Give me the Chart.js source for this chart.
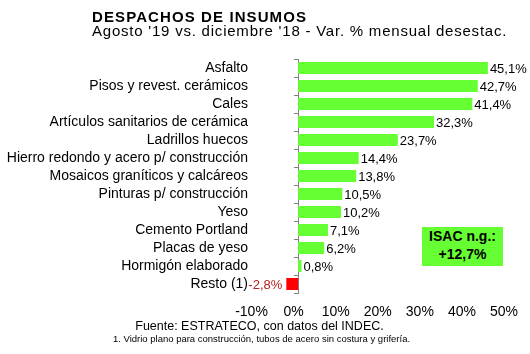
<!DOCTYPE html>
<html><head><meta charset="utf-8">
<script src="https://cdn.jsdelivr.net/npm/chart.js@4.4.1/dist/chart.umd.min.js"></script>
<style>
html,body{margin:0;padding:0;background:#fff;}
#wrap{position:relative;width:530px;height:354px;overflow:hidden;font-family:"Liberation Sans",Arial,sans-serif;color:#000;}
canvas{position:absolute;left:0;top:0;}
.t{position:absolute;white-space:nowrap;}
#title{left:92px;top:9px;font-size:15px;line-height:15px;font-weight:bold;letter-spacing:1.1px;}
#subtitle{left:92px;top:23px;font-size:15px;line-height:15px;letter-spacing:0.78px;}
#source{left:259.5px;top:320px;font-size:12.5px;line-height:12.5px;transform:translateX(-50%);}
#note{left:261.5px;top:334px;font-size:9.5px;line-height:9.5px;transform:translateX(-50%);}
#isac{position:absolute;left:422px;top:227px;width:81px;height:39px;background:#66FF33;font-weight:bold;font-size:14px;line-height:17.6px;text-align:center;box-sizing:border-box;padding-top:1px;}
</style></head><body>
<div id="wrap">
<canvas id="c" width="530" height="354"></canvas>
<div class="t" id="title">DESPACHOS DE INSUMOS</div>
<div class="t" id="subtitle">Agosto '19 vs. diciembre '18 - Var. % mensual desestac.</div>
<div class="t" id="source">Fuente: ESTRATECO, con datos del INDEC.</div>
<div class="t" id="note">1. Vidrio plano para construcción, tubos de acero sin costura y grifería.</div>
<div id="isac"></div>
</div>
<script>
const categories = [
  'Asfalto',
  'Pisos y revest. cerámicos',
  'Cales',
  'Artículos sanitarios de cerámica',
  'Ladrillos huecos',
  'Hierro redondo y acero p/ construcción',
  'Mosaicos graníticos y calcáreos',
  'Pinturas p/ construcción',
  'Yeso',
  'Cemento Portland',
  'Placas de yeso',
  'Hormigón elaborado',
  'Resto (1)'
];
const values = [45.1, 42.7, 41.4, 32.3, 23.7, 14.4, 13.8, 10.5, 10.2, 7.1, 6.2, 0.8, -2.8];
const xTickValues = [-10, 0, 10, 20, 30, 40, 50];
const isacLabel = 'ISAC n.g.:';
const isacValue = 12.7;

const fmt = v => v.toFixed(1).replace('.', ',') + '%';
document.getElementById('isac').innerHTML = isacLabel + '<br>' + (isacValue > 0 ? '+' : '') + fmt(isacValue);

const FONT = '"Liberation Sans", Arial, sans-serif';
const GREEN = '#66FF33';
const RED = '#FF0000';

const dataLabels = {
  id: 'dataLabels',
  afterDatasetsDraw(chart) {
    const ctx = chart.ctx;
    const meta = chart.getDatasetMeta(0);
    ctx.save();
    ctx.font = '13px ' + FONT;
    ctx.textBaseline = 'middle';
    meta.data.forEach((bar, i) => {
      const v = values[i];
      const txt = fmt(v);
      if (v >= 0) {
        ctx.fillStyle = '#000';
        ctx.textAlign = 'left';
        ctx.fillText(txt, bar.x + 2, bar.y + 1);
      } else {
        ctx.fillStyle = '#B22222';
        ctx.textAlign = 'right';
        ctx.fillText(txt, bar.x - 4, bar.y + 1);
      }
    });
    ctx.restore();
  }
};

new Chart(document.getElementById('c'), {
  type: 'bar',
  data: {
    labels: categories,
    datasets: [{
      data: values,
      backgroundColor: values.map(v => v < 0 ? RED : GREEN),
      borderWidth: 0,
      categoryPercentage: 1,
      barPercentage: 0.68
    }]
  },
  options: {
    indexAxis: 'y',
    responsive: false,
    animation: false,
    devicePixelRatio: 1,
    layout: { padding: { left: 6, right: 21.5, top: 59, bottom: 31 } },
    plugins: { legend: { display: false }, tooltip: { enabled: false } },
    scales: {
      x: {
        type: 'linear',
        min: -10, max: 50,
        afterBuildTicks(s) { s.ticks = xTickValues.map(v => ({ value: v })); },
        grid: { display: false, drawTicks: false },
        border: { display: false },
        ticks: {
          font: { size: 14, family: FONT },
          color: '#000',
          padding: 11,
          labelOffset: -4.5,
          maxRotation: 0,
          callback: v => v + '%'
        },
        afterFit(s) { s.height = 30; s.paddingLeft = 0; s.paddingRight = 0; }
      },
      y: {
        type: 'category',
        position: 'left',
        grid: { display: false, drawTicks: false },
        border: { display: false },
        ticks: { font: { size: 14, family: FONT }, color: '#000', padding: 8, autoSkip: false },
        afterFit(s) { s.width = 250; }
      },
      y0: {
        type: 'category',
        position: { x: 0 },
        offset: true,
        grid: { display: true, offset: true, drawOnChartArea: false, drawTicks: true, tickLength: 4, color: '#808080' },
        border: { display: true, color: '#808080' },
        ticks: { display: false },
        afterFit(s) { s.width = 0; }
      }
    }
  },
  plugins: [dataLabels]
});
</script>
</body></html>
